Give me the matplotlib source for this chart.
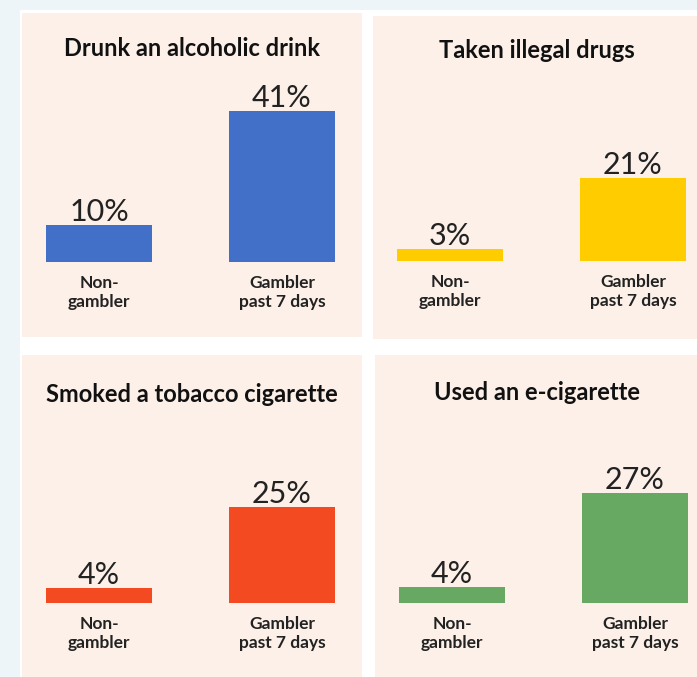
import matplotlib.pyplot as plt
from matplotlib.patches import Rectangle

# ------------------------------------------------------------
# Datos
# ------------------------------------------------------------
titles = ["Drunk an alcoholic drink", "Taken illegal drugs",
          "Smoked a tobacco cigarette", "Used an e-cigarette"]
groups = ["Non-\ngambler", "Gambler\npast 7 days"]
non_gambler = [10, 3, 4, 4]
gambler_7d = [41, 21, 25, 27]
colors = ["#4270C8", "#FFCC00", "#F44A22", "#67A862"]

# ------------------------------------------------------------
# Layout (pixels, origen arriba-izquierda)
# ------------------------------------------------------------
W, H = 697, 677
panels = [  # x0, x1, y0, y1, baseline, px por %
    (22, 362, 13, 337, 262, 3.68),
    (373, 700, 16, 339, 261, 3.97),
    (22, 362, 355, 677, 603, 3.84),
    (375, 700, 355, 677, 603, 4.07),
]
title_y = [48, 50, 395, 393]
left_off = 77   # px del borde del panel al centro de la primera barra
unit = 183      # px entre centros de barras

fig = plt.figure(figsize=(W / 100, H / 100), dpi=100)
fig.patch.set_facecolor("#EEF5F9")
fig.add_artist(Rectangle((20 / W, 0), 1, 1 - 10 / H, transform=fig.transFigure,
                         facecolor="white", edgecolor="none", zorder=0))

for k, (x0, x1, y0, y1, base, scale) in enumerate(panels):
    ax = fig.add_axes([x0 / W, 1 - y1 / H, (x1 - x0) / W, (y1 - y0) / H])
    ax.set_facecolor("#FCF0E8")
    for s in ax.spines.values():
        s.set_visible(False)
    ax.set_xticks([])
    ax.set_yticks([])
    ax.set_xlim(-left_off / unit, (x1 - x0 - left_off) / unit)
    ax.set_ylim(-(y1 - base) / scale, (base - y0) / scale)

    vals = [non_gambler[k], gambler_7d[k]]
    ax.bar([0, 1], vals, width=0.58, color=colors[k])
    for i, v in enumerate(vals):
        ax.text(i, v + 4 / scale, f"{v}%", ha="center", va="baseline",
                fontsize=22, family="Lato", color="#222222")
        ax.text(i, -13 / scale, groups[i], ha="center", va="top",
                fontsize=12.5, family="Lato", fontweight="bold",
                color="#222222", linespacing=1.25)

    ax.text(0.5, (y1 - title_y[k]) / (y1 - y0), titles[k], transform=ax.transAxes,
            ha="center", va="center", fontsize=17, family="Lato",
            fontweight="bold", color="#111111")

fig.savefig("out.png", dpi=100, facecolor=fig.get_facecolor())
